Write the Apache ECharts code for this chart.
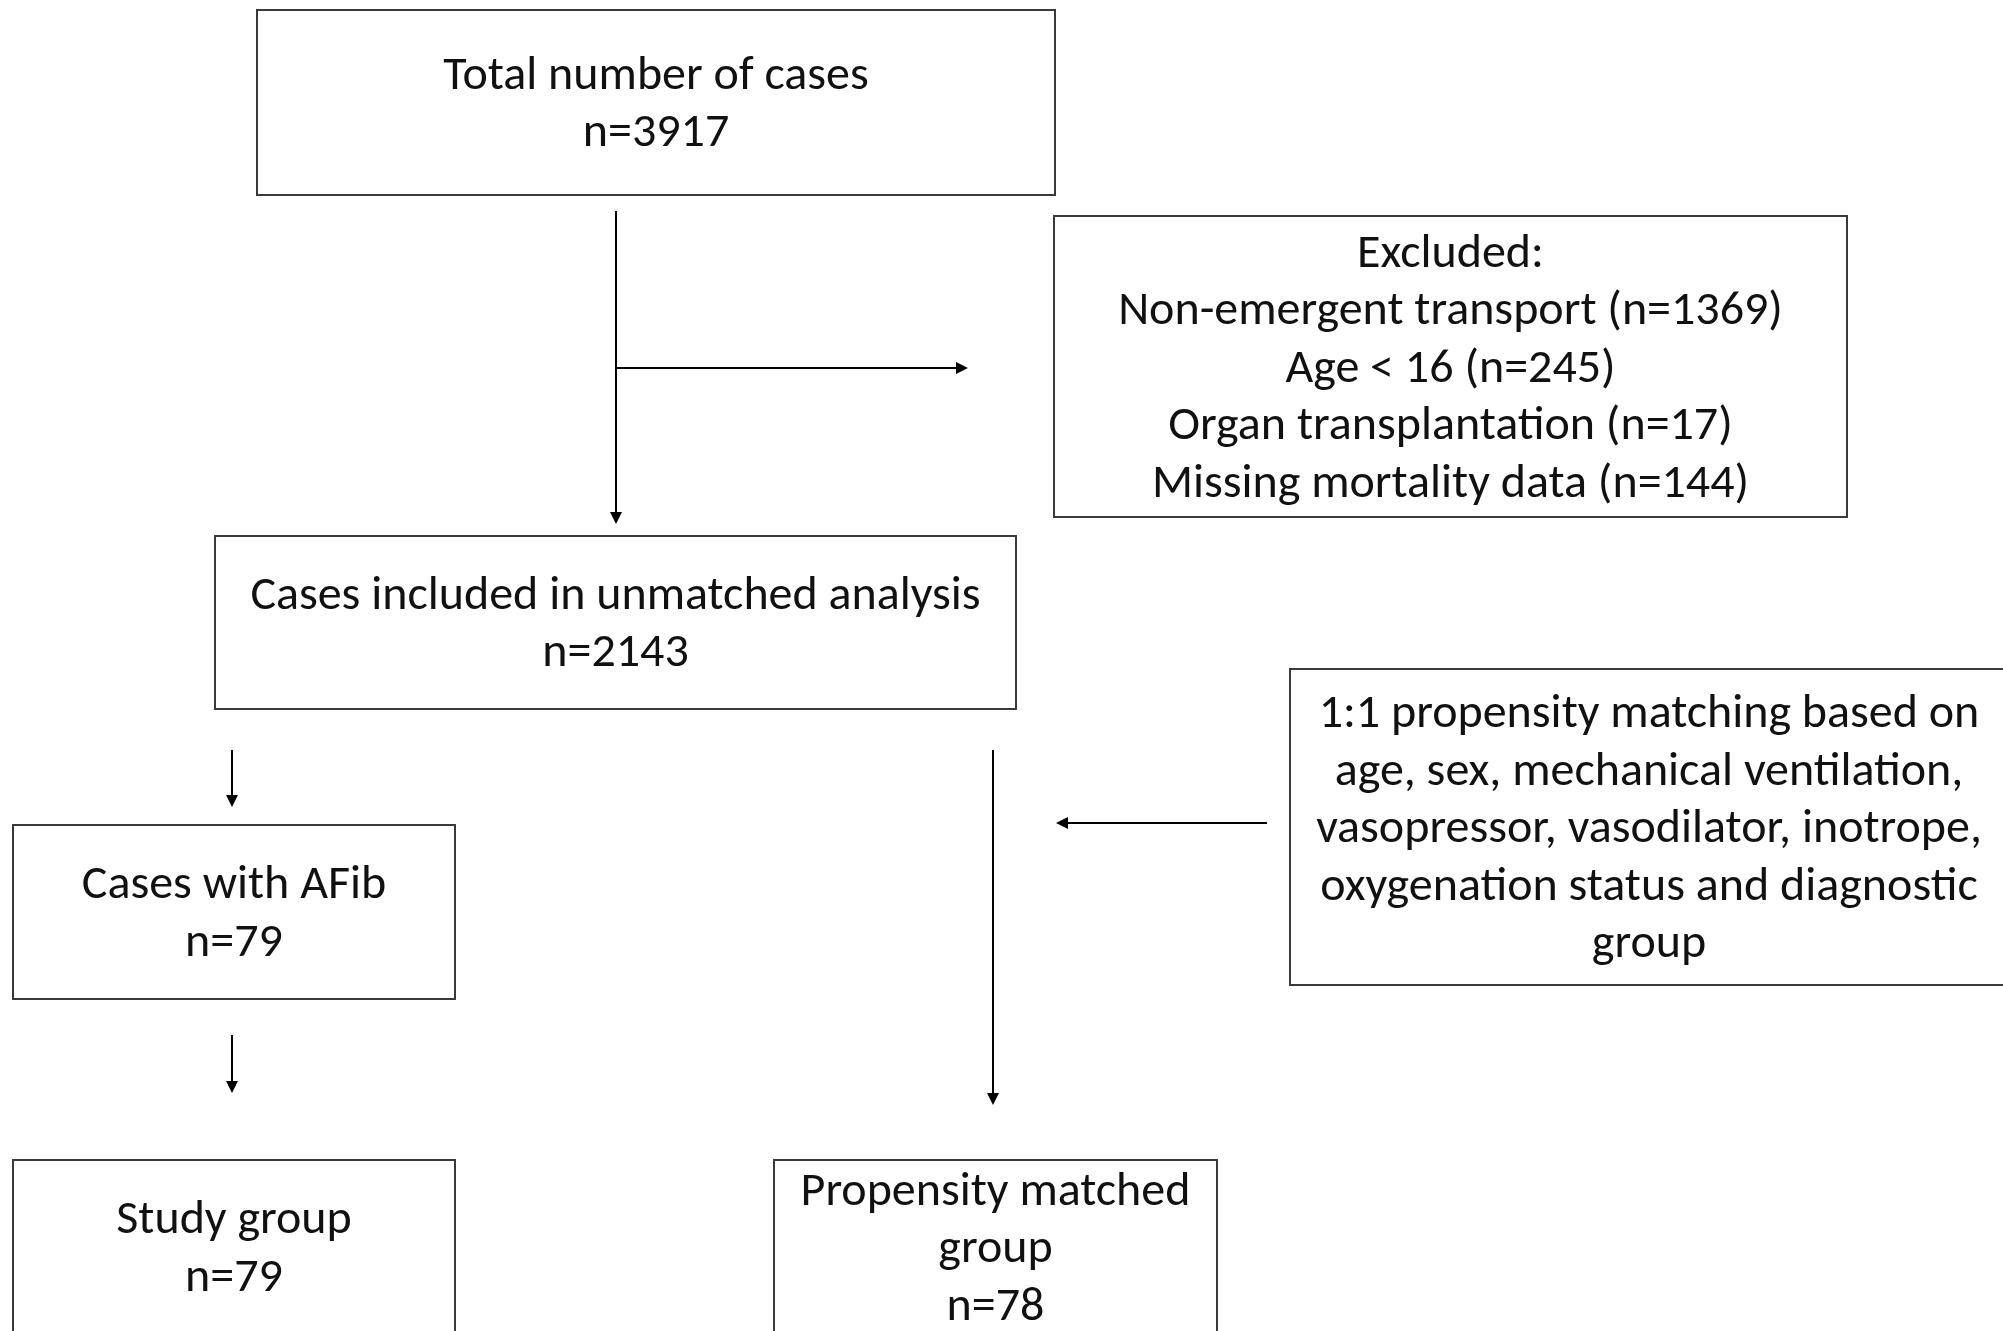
<!DOCTYPE html>
<html>
<head>
<meta charset="utf-8">
<script src="https://cdn.jsdelivr.net/npm/echarts@6/dist/echarts.min.js"></script>
<style>
  html, body { margin: 0; padding: 0; background: #fff; }
  #chart { width: 2003px; height: 1331px; }
</style>
</head>
<body>
<div id="chart"></div>
<script>
// flow steps and their counts
const stepLabels = ['Total number of cases', 'Cases included in unmatched analysis', 'Cases with AFib', 'Study group', 'Propensity matched\ngroup'];
const stepCounts = [3917, 2143, 79, 79, 78];

const exclusionTitle = 'Excluded:';
const exclusionReasons = ['Non-emergent transport', 'Age < 16', 'Organ transplantation', 'Missing mortality data'];
const exclusionCounts = [1369, 245, 17, 144];

const matchingLines = [
    '1:1 propensity matching based on',
    'age, sex, mechanical ventilation,',
    'vasopressor, vasodilator, inotrope,',
    'oxygenation status and diagnostic',
    'group'
];

// layout, in page pixels (x grows right, y grows down)
const boxRects = [
    [257, 10, 1055, 195],     // total
    [215, 536, 1016, 709],    // unmatched
    [13, 825, 455, 999],      // afib
    [13, 1160, 455, 1334],    // study group
    [774, 1160, 1217, 1334],  // propensity matched
    [1054, 216, 1847, 517],   // excluded
    [1290, 669, 2008, 985]    // matching criteria
];
const arrowPaths = [
    [[616, 211], [616, 524]],
    [[616, 368], [968, 368]],
    [[232, 750], [232, 807]],
    [[232, 1035], [232, 1093]],
    [[993, 750], [993, 1105]],
    [[1267, 823], [1056, 823]]
];

// texts of every box, in the same order as boxRects
const boxTexts = stepLabels.map((l, i) => l + '\nn=' + stepCounts[i]);
boxTexts.push([exclusionTitle].concat(exclusionReasons.map((r, i) => r + ' (n=' + exclusionCounts[i] + ')')).join('\n'));
boxTexts.push(matchingLines.join('\n'));

const FONT = 'Carlito, Lato, "Open Sans", sans-serif';
const ARROW = 12;

let chart = echarts.init(document.getElementById('chart'));

let option = {
    backgroundColor: '#fff',
    animation: false,
    grid: { left: 0, right: 0, top: 0, bottom: 0 },
    xAxis: { type: 'value', min: 0, max: 2003, show: false },
    yAxis: { type: 'value', min: 0, max: 1331, inverse: true, show: false },
    series: [
        {
            type: 'custom',
            clip: false,
            data: boxRects.map((r, i) => [r[0], r[1], r[2], r[3], i]),
            renderItem: function (params, api) {
                const p0 = api.coord([api.value(0), api.value(1)]);
                const p1 = api.coord([api.value(2), api.value(3)]);
                const idx = api.value(4);
                return {
                    type: 'group',
                    children: [
                        {
                            type: 'rect',
                            shape: { x: p0[0], y: p0[1], width: p1[0] - p0[0], height: p1[1] - p0[1] },
                            style: { fill: '#fff', stroke: '#3a3a3a', lineWidth: 2 }
                        },
                        {
                            type: 'text',
                            x: (p0[0] + p1[0]) / 2,
                            y: (p0[1] + p1[1]) / 2 + 3,
                            style: {
                                text: boxTexts[idx],
                                font: '48px ' + FONT,
                                fill: '#111',
                                align: 'center',
                                verticalAlign: 'middle',
                                lineHeight: 57.5
                            }
                        }
                    ]
                };
            }
        },
        {
            type: 'lines',
            coordinateSystem: 'cartesian2d',
            symbol: ['none', 'triangle'],
            symbolSize: ARROW,
            lineStyle: { color: '#000', width: 2, opacity: 1 },
            itemStyle: { color: '#000' },
            // pull each end back so the triangle tip lands on the target point
            data: arrowPaths.map(p => {
                const a = p[0], b = p[1];
                const dx = b[0] - a[0], dy = b[1] - a[1];
                const len = Math.sqrt(dx * dx + dy * dy);
                const back = ARROW / 2;
                return { coords: [a, [b[0] - dx / len * back, b[1] - dy / len * back]] };
            })
        }
    ]
};

chart.setOption(option);
window.addEventListener('resize', function () {
    chart.resize();
});
</script>
</body>
</html>
